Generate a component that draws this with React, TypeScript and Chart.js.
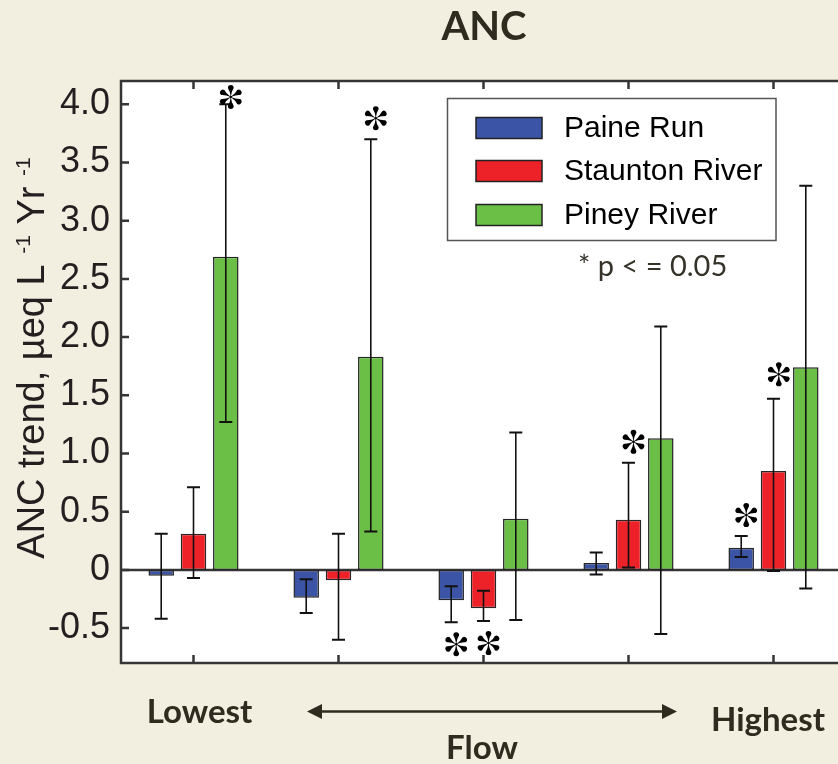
import React, { useEffect, useRef } from 'react';
import { Chart, registerables } from 'chart.js';

Chart.register(...registerables);

// ---------- data ----------
const categories = ['Lowest', 'Low', 'Middle', 'High', 'Highest'];

const paineRun = [-0.05, -0.24, -0.26, 0.06, 0.19];
const paineRunLow = [-0.42, -0.37, -0.45, -0.04, 0.11];
const paineRunHigh = [0.31, -0.08, -0.14, 0.15, 0.29];
const paineRunSig = [null, null, 'below', null, 'above'];

const stauntonRiver = [0.31, -0.09, -0.33, 0.43, 0.85];
const stauntonRiverLow = [-0.07, -0.6, -0.44, 0.02, -0.01];
const stauntonRiverHigh = [0.71, 0.31, -0.18, 0.92, 1.47];
const stauntonRiverSig = [null, null, 'below', 'above', null];

const pineyRiver = [2.69, 1.83, 0.44, 1.13, 1.74];
const pineyRiverLow = [1.27, 0.33, -0.43, -0.55, -0.16];
const pineyRiverHigh = [4.0, 3.7, 1.18, 2.09, 3.3];
const pineyRiverSig = ['above', 'above', null, null, 'left'];

const yTicks = [-0.5, 0, 0.5, 1, 1.5, 2, 2.5, 3, 3.5, 4];
const yTickLabels = ['-0.5', '0', '0.5', '1.0', '1.5', '2.0', '2.5', '3.0', '3.5', '4.0'];

const seriesNames = ['Paine Run', 'Staunton River', 'Piney River'];
const seriesColors = ['#3b54a5', '#ed2229', '#6bbe46'];

const BG = '#f2efe1';
const DARK_TEXT = '#2e2b1f';
const AXIS = '#353535';

// six teardrop-petal asterisk marker
function drawStar(ctx: CanvasRenderingContext2D, cx: number, cy: number) {
  const r = 12;
  const w = 2.9;
  ctx.save();
  ctx.translate(cx, cy);
  ctx.fillStyle = '#000';
  const angles = [-90, -30, 30, 90, 150, 210];
  angles.forEach((deg) => {
    ctx.save();
    ctx.rotate((deg * Math.PI) / 180);
    ctx.beginPath();
    ctx.moveTo(0, 0);
    ctx.quadraticCurveTo(r * 0.5, -w * 0.25, r - w, -w);
    ctx.arc(r - w, 0, w, -Math.PI / 2, Math.PI / 2);
    ctx.quadraticCurveTo(r * 0.5, w * 0.25, 0, 0);
    ctx.closePath();
    ctx.fill();
    ctx.restore();
  });
  ctx.beginPath();
  ctx.arc(0, 0, 1.3, 0, Math.PI * 2);
  ctx.fill();
  ctx.restore();
}

const decorPlugin = {
  id: 'decor',
  beforeDraw(chart: any) {
    const { ctx, chartArea: a } = chart;
    ctx.save();
    ctx.fillStyle = BG;
    ctx.fillRect(0, 0, chart.width, chart.height);
    ctx.fillStyle = '#ffffff';
    ctx.fillRect(a.left, a.top, a.right - a.left, a.bottom - a.top);
    ctx.restore();
  },
  beforeDatasetsDraw(chart: any) {
    const { ctx, chartArea: a, scales } = chart;
    const y0 = scales.y.getPixelForValue(0);
    ctx.save();
    ctx.strokeStyle = AXIS;
    ctx.lineWidth = 2.5;
    ctx.beginPath();
    ctx.moveTo(a.left, y0);
    ctx.lineTo(a.right, y0);
    ctx.stroke();
    ctx.restore();
  },
  afterDatasetsDraw(chart: any) {
    const { ctx, chartArea: a, scales } = chart;
    const ys = scales.y;
    const xs = scales.x;
    ctx.save();
    // error bars
    chart.data.datasets.forEach((ds: any, i: number) => {
      const meta = chart.getDatasetMeta(i);
      meta.data.forEach((el: any, j: number) => {
        const x = el.x;
        const yl = ys.getPixelForValue(ds.errLow[j]);
        const yh = ys.getPixelForValue(ds.errHigh[j]);
        ctx.strokeStyle = '#111';
        ctx.lineWidth = 1.6;
        ctx.beginPath();
        ctx.moveTo(x, yl);
        ctx.lineTo(x, yh);
        ctx.stroke();
        ctx.lineWidth = 2;
        ctx.beginPath();
        ctx.moveTo(x - 6.5, yl);
        ctx.lineTo(x + 6.5, yl);
        ctx.moveTo(x - 6.5, yh);
        ctx.lineTo(x + 6.5, yh);
        ctx.stroke();
      });
    });
    // significance asterisks
    chart.data.datasets.forEach((ds: any, i: number) => {
      const meta = chart.getDatasetMeta(i);
      meta.data.forEach((el: any, j: number) => {
        const place = ds.sig[j];
        if (!place) return;
        let cx = el.x;
        let cy = 0;
        if (place === 'above') {
          cx = el.x + 5;
          cy = Math.max(ys.getPixelForValue(ds.errHigh[j]) - 21, a.top + 16);
        } else if (place === 'below') {
          cx = el.x + 5;
          cy = ys.getPixelForValue(ds.errLow[j]) + 22;
        } else if (place === 'left') {
          cx = el.x - 27;
          cy = ys.getPixelForValue(ds.data[j]) + 7;
        }
        drawStar(ctx, cx, cy);
      });
    });
    // frame
    ctx.strokeStyle = AXIS;
    ctx.lineWidth = 2.5;
    ctx.strokeRect(a.left, a.top, a.right - a.left, a.bottom - a.top);
    // ticks (inward)
    ctx.lineWidth = 2.5;
    ctx.beginPath();
    yTicks.forEach((v) => {
      const y = ys.getPixelForValue(v);
      ctx.moveTo(a.left, y);
      ctx.lineTo(a.left + 8, y);
      ctx.moveTo(a.right, y);
      ctx.lineTo(a.right - 8, y);
    });
    categories.forEach((_, k) => {
      const x = xs.getPixelForValue(k);
      ctx.moveTo(x, a.top);
      ctx.lineTo(x, a.top + 8);
      ctx.moveTo(x, a.bottom);
      ctx.lineTo(x, a.bottom - 8);
    });
    ctx.stroke();
    ctx.restore();
  },
  afterDraw(chart: any) {
    const { ctx } = chart;
    ctx.save();
    // title
    ctx.fillStyle = DARK_TEXT;
    ctx.font = 'bold 40px Lato';
    ctx.textAlign = 'center';
    ctx.textBaseline = 'alphabetic';
    ctx.fillText('ANC', 484, 40);

    // y axis title with superscripts
    ctx.save();
    ctx.translate(44, 358);
    ctx.rotate(-Math.PI / 2);
    ctx.fillStyle = '#231f20';
    const pieces = [
      { t: 'ANC trend, µeq L ', sup: false },
      { t: '-1', sup: true },
      { t: ' Yr ', sup: false },
      { t: '-1', sup: true },
    ];
    const mainFont = '38px "Liberation Sans"';
    const supFont = '21px "Liberation Sans"';
    let total = 0;
    pieces.forEach((p) => {
      ctx.font = p.sup ? supFont : mainFont;
      total += ctx.measureText(p.t).width;
    });
    let px = -total / 2;
    ctx.textAlign = 'left';
    pieces.forEach((p) => {
      ctx.font = p.sup ? supFont : mainFont;
      ctx.fillText(p.t, px, p.sup ? -14 : 0);
      px += ctx.measureText(p.t).width;
    });
    ctx.restore();

    // legend
    ctx.fillStyle = '#ffffff';
    ctx.fillRect(447.5, 98.5, 328.5, 142);
    ctx.strokeStyle = '#555';
    ctx.lineWidth = 1.5;
    ctx.strokeRect(447.5, 98.5, 328.5, 142);
    const rowY = [128, 171, 215];
    seriesNames.forEach((name, k) => {
      ctx.fillStyle = seriesColors[k];
      ctx.fillRect(476, rowY[k] - 10.5, 66, 21);
      ctx.strokeStyle = '#222';
      ctx.lineWidth = 1.5;
      ctx.strokeRect(476, rowY[k] - 10.5, 66, 21);
      ctx.fillStyle = '#000';
      ctx.font = '30px "Liberation Sans"';
      ctx.textAlign = 'left';
      ctx.textBaseline = 'middle';
      ctx.fillText(name, 564, rowY[k] + 1);
    });

    // significance note
    ctx.fillStyle = '#35322a';
    ctx.font = '29px Lato';
    ctx.textAlign = 'left';
    ctx.textBaseline = 'middle';
    ctx.fillText('* p < = 0.05', 578, 267);

    // flow axis annotation
    ctx.fillStyle = DARK_TEXT;
    ctx.font = 'bold 33px Lato';
    ctx.textAlign = 'center';
    ctx.textBaseline = 'alphabetic';
    ctx.fillText(categories[0], 199.5, 723);
    ctx.fillText(categories[categories.length - 1], 768, 731);
    ctx.fillText('Flow', 482, 759);

    // double-headed arrow
    const ay = 711.5;
    const ax1 = 307;
    const ax2 = 677;
    ctx.strokeStyle = DARK_TEXT;
    ctx.lineWidth = 2.5;
    ctx.beginPath();
    ctx.moveTo(ax1 + 10, ay);
    ctx.lineTo(ax2 - 10, ay);
    ctx.stroke();
    ctx.beginPath();
    ctx.moveTo(ax1, ay);
    ctx.lineTo(ax1 + 15, ay - 7.5);
    ctx.lineTo(ax1 + 15, ay + 7.5);
    ctx.closePath();
    ctx.moveTo(ax2, ay);
    ctx.lineTo(ax2 - 15, ay - 7.5);
    ctx.lineTo(ax2 - 15, ay + 7.5);
    ctx.closePath();
    ctx.fill();
    ctx.restore();
  },
};

export default function App() {
  const ref = useRef<HTMLCanvasElement>(null);

  useEffect(() => {
    if (!ref.current) return;
    const common = {
      borderColor: '#262626',
      borderWidth: 1.5,
      borderSkipped: false,
      categoryPercentage: 0.668,
      barPercentage: 0.79,
    };
    const chart = new Chart(ref.current, {
      type: 'bar',
      data: {
        labels: categories,
        datasets: [
          { label: seriesNames[0], data: paineRun, backgroundColor: seriesColors[0], errLow: paineRunLow, errHigh: paineRunHigh, sig: paineRunSig, ...common } as any,
          { label: seriesNames[1], data: stauntonRiver, backgroundColor: seriesColors[1], errLow: stauntonRiverLow, errHigh: stauntonRiverHigh, sig: stauntonRiverSig, ...common } as any,
          { label: seriesNames[2], data: pineyRiver, backgroundColor: seriesColors[2], errLow: pineyRiverLow, errHigh: pineyRiverHigh, sig: pineyRiverSig, ...common } as any,
        ],
      },
      options: {
        animation: false,
        responsive: false,
        devicePixelRatio: 1,
        layout: { padding: { top: 81, bottom: 101, right: 4, left: 0 } },
        plugins: {
          legend: { display: false },
          tooltip: { enabled: false },
          title: { display: false },
        },
        scales: {
          x: { display: false },
          y: {
            min: -0.8,
            max: 4.2,
            afterFit: (s: any) => {
              s.width = 121;
            },
            afterBuildTicks: (s: any) => {
              s.ticks = yTicks.map((v) => ({ value: v }));
            },
            ticks: {
              padding: 3,
              color: '#231f20',
              font: { family: '"Liberation Sans"', size: 36 },
              callback: (_v: any, i: number) => yTickLabels[i],
            },
            grid: { display: false },
            border: { display: false },
          },
        },
      } as any,
      plugins: [decorPlugin],
    });
    return () => chart.destroy();
  }, []);

  return (
    <div
      style={{
        position: 'fixed',
        left: 0,
        top: 0,
        width: 838,
        height: 764,
        overflow: 'hidden',
        background: BG,
      }}
    >
      <canvas ref={ref} width={850} height={764} style={{ display: 'block', width: 850, height: 764 }} />
    </div>
  );
}
